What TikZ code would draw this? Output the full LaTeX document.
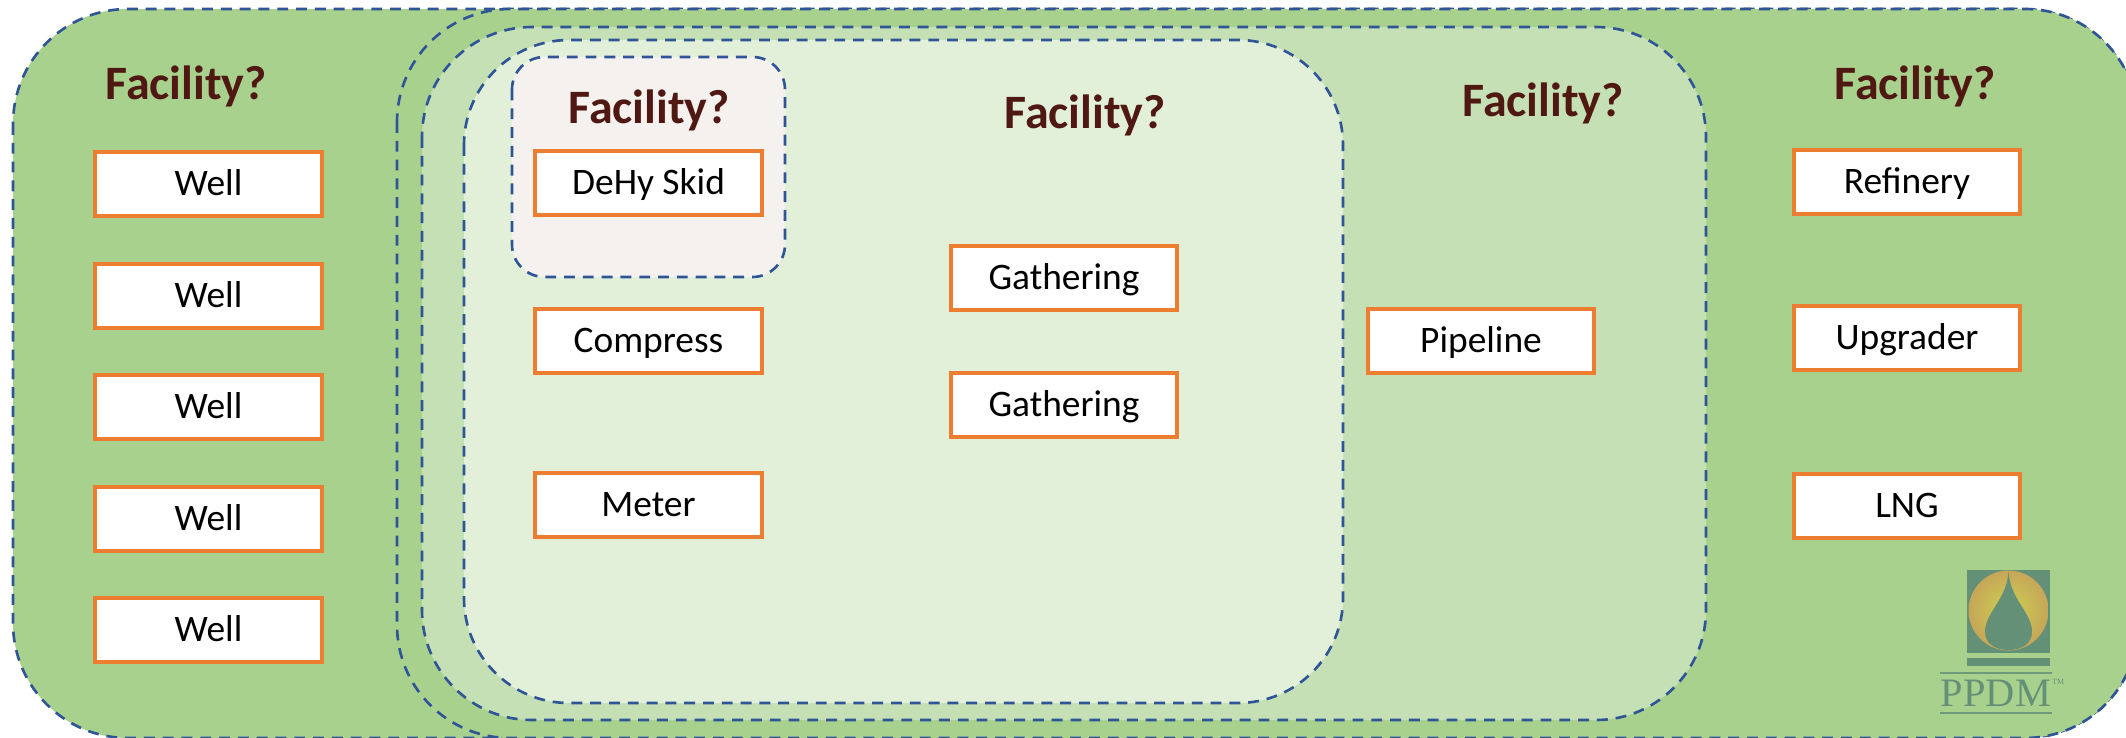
\documentclass[tikz,border=0pt]{standalone}
\usepackage{fontspec}
\setmainfont{Carlito}
\newfontfamily\logofont{Liberation Serif}
\definecolor{regionline}{HTML}{2F5597}
\definecolor{outergreen}{HTML}{A9D18E}
\definecolor{midgreen}{HTML}{C5E0B4}
\definecolor{palegreen}{HTML}{E2F0D9}
\definecolor{skidfill}{HTML}{F5F1EF}
\definecolor{boxline}{HTML}{ED7D31}
\definecolor{headbrown}{HTML}{501812}
\definecolor{logogreen}{HTML}{659078}
\definecolor{logocore}{HTML}{CDD152}
\definecolor{logorim}{HTML}{C6A658}
\tikzset{
    region/.style={draw=regionline, line width=1.5pt, dash pattern=on 6.2pt off 4.5pt},
    unitbox/.style={draw=boxline, fill=white, line width=2.2pt, minimum width=129pt, minimum height=36.5pt, inner sep=0pt, text height=16pt, text depth=2.4pt, font=\fontsize{21.3}{21.3}\selectfont},
    heading/.style={text=headbrown, inner sep=0pt, font=\fontsize{27.3}{27.3}\selectfont\bfseries}
}
\begin{document}
\begin{tikzpicture}[x=0.02cm, y=-0.02cm]
    \useasboundingbox (0, 0) rectangle (2126, 737);

    % Nested regions
    \draw[region, fill=outergreen, rounded corners=2.3cm] (13, 9) rectangle (2138, 738);
    \draw[region, fill=outergreen, rounded corners=2.26cm] (397, 9) rectangle (2138, 738);
    \draw[region, fill=midgreen, rounded corners=2.2cm] (422, 27) rectangle (1706, 720);
    \draw[region, fill=palegreen, rounded corners=2.1cm] (464, 40) rectangle (1343, 703);
    \draw[region, fill=skidfill, rounded corners=0.65cm] (512, 57) rectangle (785, 277);

    % Headings
    \node[heading] (headwells) at (186, 86) {Facility?};
    \node[heading] (headskid) at (649, 110) {Facility?};
    \node[heading] (headplant) at (1085, 115) {Facility?};
    \node[heading] (headpipe) at (1543, 103) {Facility?};
    \node[heading] (headdown) at (1915, 86) {Facility?};

    % Wells
    \node[unitbox] (well1) at (208.5, 184) {Well};
    \node[unitbox] (well2) at (208.5, 296) {Well};
    \node[unitbox] (well3) at (208.5, 407) {Well};
    \node[unitbox] (well4) at (208.5, 519) {Well};
    \node[unitbox] (well5) at (208.5, 630) {Well};

    % Plant
    \node[unitbox] (dehy) at (648.5, 183) {DeHy Skid};
    \node[unitbox] (compress) at (648.5, 341) {Compress};
    \node[unitbox] (meter) at (648.5, 505) {Meter};
    \node[unitbox] (gathering1) at (1064, 278) {Gathering};
    \node[unitbox] (gathering2) at (1064, 405) {Gathering};

    % Pipeline
    \node[unitbox] (pipeline) at (1481, 341) {Pipeline};

    % Downstream
    \node[unitbox] (refinery) at (1907, 182) {Refinery};
    \node[unitbox] (upgrader) at (1907, 338) {Upgrader};
    \node[unitbox] (lng) at (1907, 506) {LNG};

    % Logo
    \fill[logogreen] (1967, 570) rectangle (2050, 653);
    \shade[inner color=logocore, outer color=logorim] (2008.5, 610.5) circle (40);
    \fill[logogreen] (2008.5, 571) .. controls (2007, 600) and (1985, 612) .. (1985, 632)
        .. controls (1985, 644) and (1996, 650) .. (2008.5, 650)
        .. controls (2021, 650) and (2032, 644) .. (2032, 632)
        .. controls (2032, 612) and (2010, 600) .. (2008.5, 571) -- cycle;
    \fill[logogreen] (1967, 658) rectangle (2050, 666);
    \draw[logogreen!85!outergreen, line width=0.6pt] (1940, 673) -- (2052, 673);
    \draw[logogreen!85!outergreen, line width=0.6pt] (1940, 713) -- (2052, 713);
    \node[text=logogreen, inner sep=0pt, font=\logofont\fontsize{23}{23}\selectfont] (logotext) at (1996, 693) {PPDM};
    \node[text=logogreen, inner sep=0pt, font=\logofont\fontsize{4.5}{4.5}\selectfont, anchor=west] (logotm) at (2052, 682) {TM};
\end{tikzpicture}
\end{document}
